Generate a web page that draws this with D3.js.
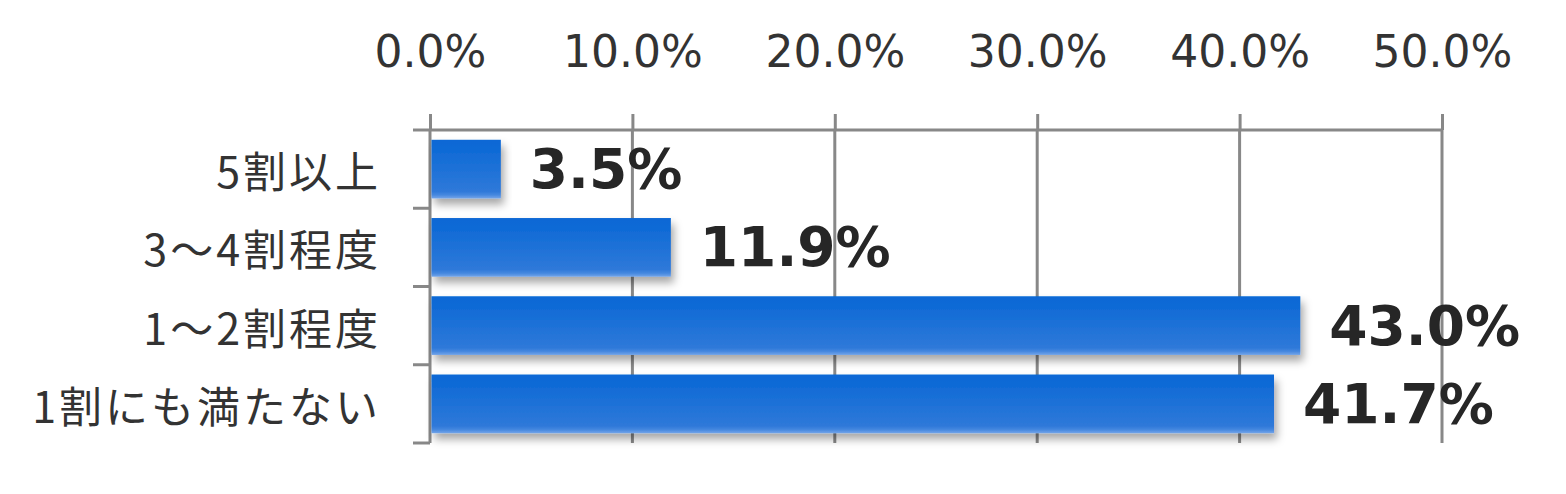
<!DOCTYPE html>
<html>
<head>
<meta charset="utf-8">
<script src="https://cdn.jsdelivr.net/npm/d3@7"></script>
<style>
  html, body { margin: 0; padding: 0; background: #fff; }
  svg { display: block; }
</style>
</head>
<body>
<div id="chart"></div>
<script>
// Horizontal bar chart, value axis on top, categories read top to bottom.
const categories = ["5割以上", "3～4割程度", "1～2割程度", "1割にも満たない"];
const values = [3.5, 11.9, 43.0, 41.7];
const xTicks = [0, 10, 20, 30, 40, 50];

const w = 1566, h = 494;
const margin = { top: 130, right: 124, bottom: 51, left: 430 };

const x = d3.scaleLinear().domain([0, 50]).range([margin.left, w - margin.right]);
const y = d3.scaleBand()
  .domain(categories)
  .range([margin.top, h - margin.bottom])
  .paddingInner(0.25)
  .paddingOuter(0.125);

const svg = d3.select("#chart").append("svg")
  .attr("width", w).attr("height", h)
  .attr("viewBox", `0 0 ${w} ${h}`);

const defs = svg.append("defs");
const grad = defs.append("linearGradient")
  .attr("id", "barGrad").attr("x1", 0).attr("y1", 0).attr("x2", 0).attr("y2", 1);
grad.append("stop").attr("offset", "0%").attr("stop-color", "#0767d5");
grad.append("stop").attr("offset", "88%").attr("stop-color", "#2f79d9");
grad.append("stop").attr("offset", "94%").attr("stop-color", "#4688df");
grad.append("stop").attr("offset", "100%").attr("stop-color", "#74a5e9");

const shadow = defs.append("filter").attr("id", "shadow")
  .attr("x", "-5%").attr("y", "-20%").attr("width", "120%").attr("height", "160%");
shadow.append("feDropShadow")
  .attr("dx", 3).attr("dy", 6).attr("stdDeviation", 4)
  .attr("flood-color", "#000").attr("flood-opacity", 0.35);

const gridColor = "#888888";

// value axis on top, ticks pointing outward, gridlines down through the plot
svg.append("g")
  .attr("transform", `translate(0, ${margin.top})`)
  .call(d3.axisTop(x).tickValues(xTicks).tickSize(16).tickPadding(47)
    .tickFormat((d) => d.toFixed(1) + "%"))
  .call((g) => g.select(".domain").attr("stroke", gridColor).attr("stroke-width", 3)
    .attr("d", `M${x(0)},0H${x(50)}`))
  .call((g) => g.selectAll(".tick line").attr("stroke", gridColor).attr("stroke-width", 3))
  .call((g) => g.selectAll(".tick text")
    .attr("fill", "#333")
    .attr("font-family", "'DejaVu Sans', Verdana, sans-serif")
    .attr("font-size", 44));

svg.append("g")
  .selectAll("line.grid")
  .data(xTicks.slice(1))
  .join("line")
  .attr("class", "grid")
  .attr("x1", (d) => x(d)).attr("x2", (d) => x(d))
  .attr("y1", margin.top).attr("y2", h - margin.bottom)
  .attr("stroke", gridColor).attr("stroke-width", 3);

// category axis on the left, ticks at band boundaries
const bounds = categories.map((c) => y(c) - y.step() * y.paddingInner() / 2)
  .concat([h - margin.bottom]);
const catAxis = svg.append("g");
catAxis.append("line")
  .attr("x1", x(0)).attr("x2", x(0))
  .attr("y1", margin.top).attr("y2", h - margin.bottom)
  .attr("stroke", gridColor).attr("stroke-width", 3);
catAxis.selectAll("line.ctick")
  .data(bounds)
  .join("line")
  .attr("class", "ctick")
  .attr("x1", x(0) - 17).attr("x2", x(0))
  .attr("y1", (d) => d).attr("y2", (d) => d)
  .attr("stroke", gridColor).attr("stroke-width", 3);

catAxis.selectAll("text")
  .data(categories)
  .join("text")
  .attr("x", x(0) - 49)
  .attr("y", (d) => y(d) + y.bandwidth() / 2)
  .attr("text-anchor", "end")
  .attr("dominant-baseline", "central")
  .attr("fill", "#333")
  .attr("font-family", "'Noto Sans CJK JP', sans-serif")
  .attr("font-weight", 400)
  .attr("font-size", 43)
  .attr("letter-spacing", 3)
  .text((d) => d);

// bars
svg.append("g")
  .selectAll("rect")
  .data(categories)
  .join("rect")
  .attr("x", x(0) + 1.5)
  .attr("y", (d) => y(d))
  .attr("width", (d, i) => x(values[i]) - x(0) - 1.5)
  .attr("height", y.bandwidth())
  .attr("fill", "url(#barGrad)")
  .attr("filter", "url(#shadow)");

// value labels
svg.append("g")
  .selectAll("text")
  .data(categories)
  .join("text")
  .attr("x", (d, i) => x(values[i]) + 29)
  .attr("y", (d) => y(d) + y.bandwidth() / 2)
  .attr("dominant-baseline", "central")
  .attr("fill", "#262626")
  .attr("font-family", "'DejaVu Sans', Verdana, sans-serif")
  .attr("font-weight", "bold")
  .attr("font-size", 55)
  .text((d, i) => values[i].toFixed(1) + "%");
</script>
</body>
</html>
